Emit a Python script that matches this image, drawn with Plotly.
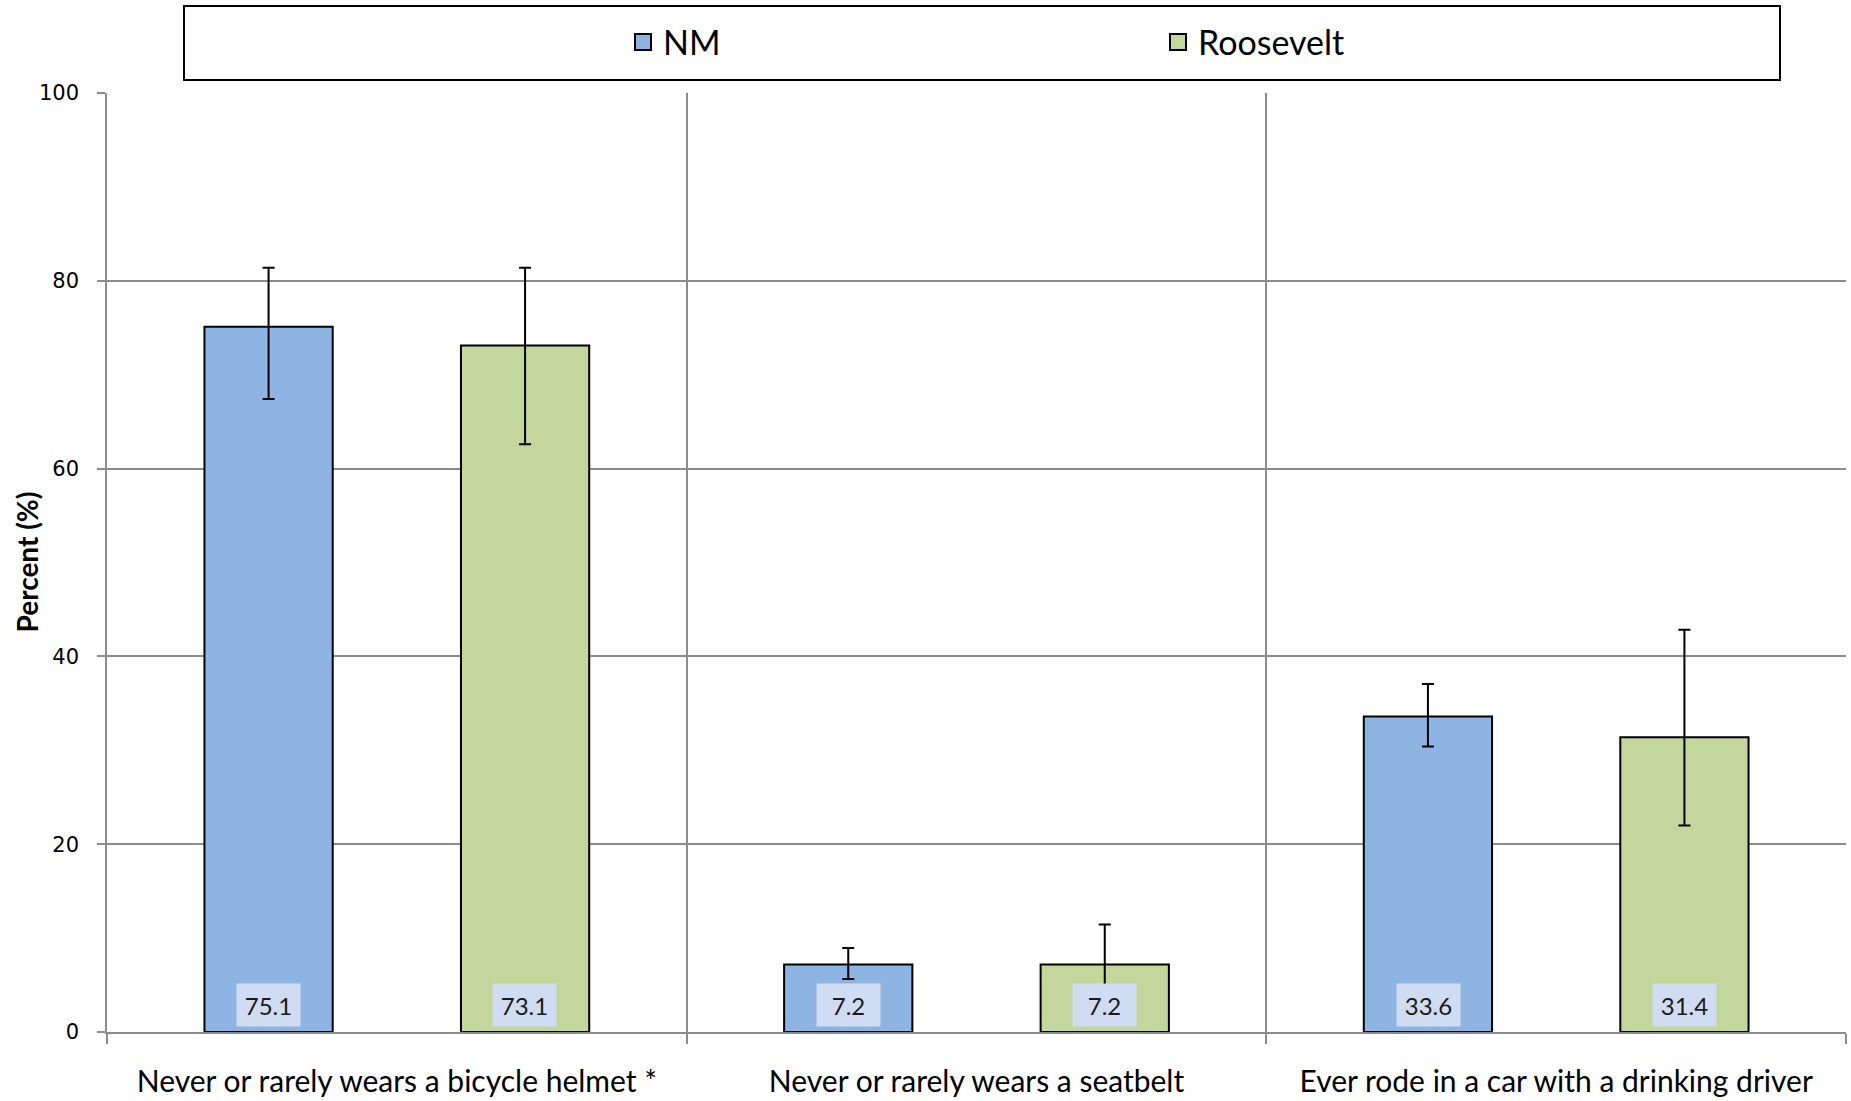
import plotly.graph_objects as go

categories = ["Never or rarely wears a bicycle helmet *",
              "Never or rarely wears a seatbelt",
              "Ever rode in a car with a drinking driver"]
series_names = ["NM", "Roosevelt"]
nm_values = [75.1, 7.2, 33.6]
nm_lower = [67.4, 5.65, 30.4]
nm_upper = [81.4, 8.95, 37.05]
roosevelt_values = [73.1, 7.2, 31.4]
roosevelt_lower = [62.6, 4.2, 22.0]
roosevelt_upper = [81.4, 11.45, 42.85]
y_ticks = [0, 20, 40, 60, 80, 100]

colors = ["#8eb4e3", "#c3d69b"]
W, H = 1851, 1101
ML, MR, MT, MB = 107, 5, 93, 69
plot_w = W - ML - MR
plot_h = H - MT - MB

fig = go.Figure()
series = [(nm_values, nm_lower, nm_upper), (roosevelt_values, roosevelt_lower, roosevelt_upper)]
for name, (vals, lo, hi), col in zip(series_names, series, colors):
    fig.add_trace(go.Bar(
        name=name, x=categories, y=vals,
        marker=dict(color=col, line=dict(color="black", width=2)),
        error_y=dict(type="data", symmetric=False,
                     array=[h - v for h, v in zip(hi, vals)],
                     arrayminus=[v - l for l, v in zip(lo, vals)],
                     color="black", thickness=2, width=6),
        showlegend=False,
    ))
    # legend entry with larger square swatch
    fig.add_trace(go.Scatter(
        name=name, x=[None], y=[None], mode="markers",
        marker=dict(symbol="square", size=19, color=col, line=dict(color="black", width=2)),
        showlegend=True,
    ))

# data labels at bar bottoms
offset = 0.221
for k, vals in enumerate([nm_values, roosevelt_values]):
    sgn = -1 if k == 0 else 1
    for i, v in enumerate(vals):
        fig.add_annotation(
            x=i + sgn * offset, y=2.9, xref="x", yref="y",
            text=f"{v:.1f}", showarrow=False,
            font=dict(family="Lato", size=24, color="#1a1a1a"),
            bgcolor="#d0dcf2", width=61, height=40, yanchor="middle",
        )

# y-axis title
fig.add_annotation(
    x=0, xref="paper", xshift=-(ML - 26), y=0.5, yref="paper",
    text="<b>Percent (%)</b>", textangle=-90, showarrow=False,
    xanchor="center", yanchor="middle",
    font=dict(family="Lato", size=28, color="black"),
)

# legend frame
fig.add_shape(type="rect", xref="paper", yref="paper",
              x0=(184 - ML) / plot_w, x1=(1780 - ML) / plot_w,
              y0=(H - MB - 80) / plot_h, y1=(H - MB - 6) / plot_h,
              line=dict(color="black", width=2), fillcolor="white", layer="below")

fig.update_layout(
    width=W, height=H,
    margin=dict(l=ML, r=MR, t=MT, b=MB, autoexpand=False),
    paper_bgcolor="white", plot_bgcolor="white",
    barmode="group", bargap=0.115, bargroupgap=0.5,
    font=dict(family="Lato", color="black"),
    legend=dict(orientation="h", x=(623 - ML) / plot_w, xanchor="left",
                y=(H - MB - 42.5) / plot_h, yanchor="middle",
                font=dict(family="Lato", size=34), bgcolor="rgba(0,0,0,0)",
                entrywidth=490, entrywidthmode="pixels", itemsizing="trace"),
    xaxis=dict(type="category", tickson="boundaries", ticks="outside", ticklen=10,
               tickcolor="#8c8c8c", tickwidth=1.5, automargin=False,
               showgrid=True, gridcolor="#8c8c8c", gridwidth=1.5,
               showline=True, linecolor="#8c8c8c", linewidth=1.5,
               tickfont=dict(family="Lato", size=30, color="black"),
               ticklabelstandoff=22, range=[-0.5, 2.5]),
    yaxis=dict(range=[0, 100], tickvals=y_ticks, ticks="outside", ticklen=8,
               tickcolor="#8c8c8c", tickwidth=1.5, automargin=False,
               showgrid=True, gridcolor="#8c8c8c", gridwidth=1.5,
               showline=True, linecolor="#8c8c8c", linewidth=1.5, zeroline=False,
               tickfont=dict(family="DejaVu Sans", size=21, color="black"),
               ticklabelstandoff=14),
)

fig.write_html("out.html", config={"displayModeBar": False},
               post_script="document.body.style.margin='0';")
